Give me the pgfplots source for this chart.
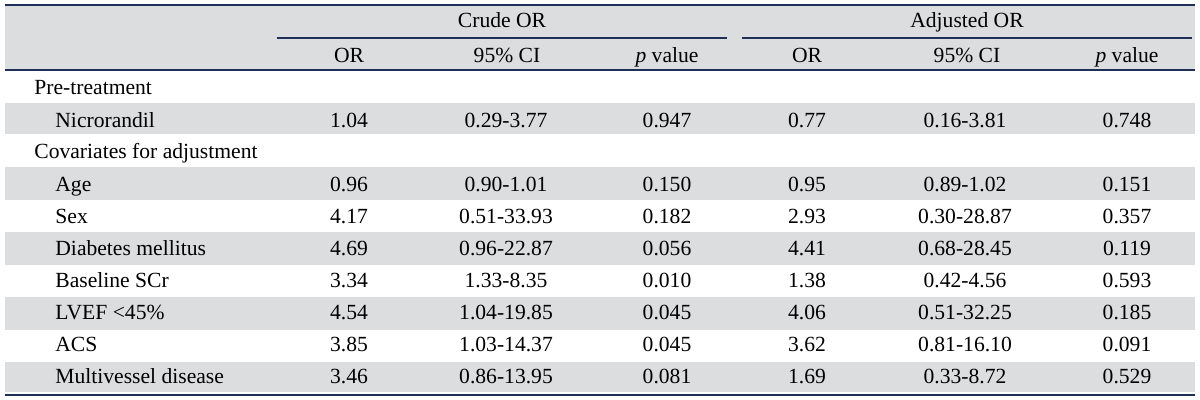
\documentclass[border=0pt]{standalone}
\usepackage{pgfplots}
\pgfplotsset{compat=1.18}
\usepackage{pgfplotstable}
\usepackage{fontspec}
\setmainfont{Liberation Serif}
\definecolor{tblgray}{RGB}{220,221,222}
\definecolor{navy}{RGB}{30,48,88}

% data rows: baseline y, crude OR, CI, p, adjusted OR, CI, p
\pgfplotstableread[col sep=comma]{
y,or1,ci1,p1,or2,ci2,p2
128,1.04,0.29-3.77,0.947,0.77,0.16-3.81,0.748
192,0.96,0.90-1.01,0.150,0.95,0.89-1.02,0.151
224,4.17,0.51-33.93,0.182,2.93,0.30-28.87,0.357
256,4.69,0.96-22.87,0.056,4.41,0.68-28.45,0.119
288,3.34,1.33-8.35,0.010,1.38,0.42-4.56,0.593
320,4.54,1.04-19.85,0.045,4.06,0.51-32.25,0.185
352,3.85,1.03-14.37,0.045,3.62,0.81-16.10,0.091
384,3.46,0.86-13.95,0.081,1.69,0.33-8.72,0.529
}\datatbl

% row labels (left aligned)
\pgfplotstableread[col sep=comma]{
x,y,label
34,95,Pre-treatment
55,128,Nicrorandil
34,159,Covariates for adjustment
55,192,Age
55,224,Sex
55,256,Diabetes mellitus
55,288,Baseline SCr
55,320,LVEF <45\%
55,352,ACS
55,384,Multivessel disease
}\rowtbl

% header labels (centred)
\pgfplotstableread[col sep=comma]{
x,y,label
502,28,Crude OR
967,28,Adjusted OR
349,63,OR
507,63,95\% CI
667,63,\textit{p} value
807,63,OR
967,63,95\% CI
1127,63,\textit{p} value
}\headtbl

\begin{document}
\begin{tikzpicture}
\begin{axis}[
  width=600pt, height=200pt, scale only axis,
  xmin=0, xmax=1200, ymin=0, ymax=400, y dir=reverse,
  hide axis, clip=false,
  nodes near coords style={font=\fontsize{10.8}{13}\selectfont, inner sep=0pt, text=black},
]
% bounding box
\addplot[draw=none] coordinates {(0,0) (1200,400)};
% shaded bands
\addplot[fill=tblgray, draw=none] coordinates {(5,5) (1195,5) (1195,70) (5,70)} -- cycle;
\addplot[fill=tblgray, draw=none] coordinates {(5,103) (1195,103) (1195,134) (5,134)} -- cycle;
\addplot[fill=tblgray, draw=none] coordinates {(5,167) (1195,167) (1195,200) (5,200)} -- cycle;
\addplot[fill=tblgray, draw=none] coordinates {(5,232) (1195,232) (1195,265) (5,265)} -- cycle;
\addplot[fill=tblgray, draw=none] coordinates {(5,297) (1195,297) (1195,330) (5,330)} -- cycle;
\addplot[fill=tblgray, draw=none] coordinates {(5,362) (1195,362) (1195,392) (5,392)} -- cycle;
% rules
\addplot[navy, line width=1pt] coordinates {(5,5) (1195,5)};
\addplot[navy, line width=0.9pt] coordinates {(277,38) (727,38)};
\addplot[navy, line width=0.9pt] coordinates {(742,38) (1192,38)};
\addplot[navy, line width=1pt] coordinates {(5,70) (1195,70)};
\addplot[navy, line width=1pt] coordinates {(5,395) (1195,395)};
% headers
\addplot[draw=none, nodes near coords, point meta=explicit symbolic,
  nodes near coords style={anchor=base}] table[x=x, y=y, meta=label]{\headtbl};
% row labels
\addplot[draw=none, nodes near coords, point meta=explicit symbolic,
  nodes near coords style={anchor=base west}] table[x=x, y=y, meta=label]{\rowtbl};
% values
\addplot[draw=none, nodes near coords, point meta=explicit symbolic,
  nodes near coords style={anchor=base}] table[x expr=349, y=y, meta=or1]{\datatbl};
\addplot[draw=none, nodes near coords, point meta=explicit symbolic,
  nodes near coords style={anchor=base}] table[x expr=506, y=y, meta=ci1]{\datatbl};
\addplot[draw=none, nodes near coords, point meta=explicit symbolic,
  nodes near coords style={anchor=base}] table[x expr=667, y=y, meta=p1]{\datatbl};
\addplot[draw=none, nodes near coords, point meta=explicit symbolic,
  nodes near coords style={anchor=base}] table[x expr=807, y=y, meta=or2]{\datatbl};
\addplot[draw=none, nodes near coords, point meta=explicit symbolic,
  nodes near coords style={anchor=base}] table[x expr=965, y=y, meta=ci2]{\datatbl};
\addplot[draw=none, nodes near coords, point meta=explicit symbolic,
  nodes near coords style={anchor=base}] table[x expr=1127, y=y, meta=p2]{\datatbl};
\end{axis}
\end{tikzpicture}
\end{document}
